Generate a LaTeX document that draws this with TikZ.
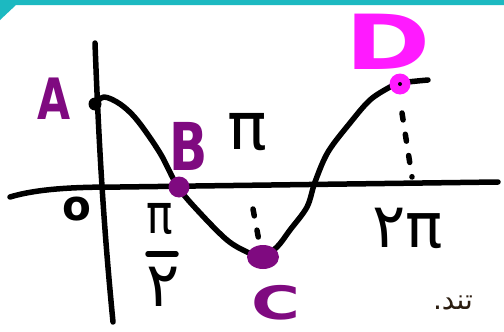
\documentclass[tikz,border=0pt]{standalone}
\usepackage{fontspec}
\usetikzlibrary{shapes.geometric}
\setmainfont{DejaVu Sans}
\newfontfamily\arabicfont[Script=Arabic]{DejaVu Sans}
\TeXXeTstate=1
\definecolor{bandteal}{HTML}{1CB9C1}
\definecolor{ptpurple}{HTML}{7F0A80}
\definecolor{ptmagenta}{HTML}{FF1AFF}
\definecolor{textbrown}{HTML}{2B1D10}
\begin{document}
\begin{tikzpicture}[x=1pt,y=-1pt,line cap=round,line join=round,
  ink/.style={line width=5.5pt,black},
  dotted ink/.style={ink,dash pattern=on 7pt off 14.5pt},
  lbl/.style={inner sep=0pt,outer sep=0pt},
  pt/.style={circle,inner sep=0pt,outer sep=0pt,draw=none}]
\useasboundingbox (0,0) rectangle (504,332);
\fill[white] (0,0) rectangle (504,332);
\fill[bandteal] (0,0) -- (504,0) -- (504,5) -- (16,5) -- (0,20) -- cycle;
% axes
\coordinate (ytop) at (95,43);
\coordinate (ybot) at (113,322);
\draw[ink] (ytop) .. controls (99,150) and (104,230) .. (ybot);
\coordinate (xl) at (10,197);
\coordinate (xo) at (120,187);
\coordinate (xr) at (498,182);
\draw[ink] (xl) .. controls (40,188) and (80,187) .. (xo) -- (xr);
% curve
\draw[ink] plot[smooth,tension=0.55] coordinates {(95,104) (104,97) (120,104) (137,120) (160,153) (178,187) (200,213) (227,240) (247,252) (262,257) (277,247) (290,230) (307,207) (315,182) (328,152) (350,123) (370,100) (390,87) (400,83) (428,80)};
% dashed guides
\coordinate (c1) at (253,209); \coordinate (c2) at (259,241);
\draw[dotted ink] (c1) -- (c2);
\coordinate (d1) at (402,113); \coordinate (d2) at (412,177);
\draw[dotted ink] (d1) -- (d2);
% points
\node[pt,fill=black,minimum size=13pt] (ptA) at (95,104) {};
\node[pt,fill=ptpurple,minimum size=21pt] (ptB) at (179,187) {};
\node[ellipse,inner sep=0pt,outer sep=0pt,fill=ptpurple,minimum width=32pt,minimum height=24pt] (ptC) at (263,257) {};
\node[pt,fill=ptmagenta,minimum size=21pt] (ptD) at (400,84) {};
\node[pt,fill=black,minimum size=4pt] (ptDc) at (400,84) {};
% labels
\node[lbl,text=ptpurple,font=\bfseries\fontsize{57}{57}\selectfont,xscale=0.75] (labA) at (54,99) {A};
\node[lbl,text=ptpurple,font=\bfseries\fontsize{66}{66}\selectfont,xscale=0.76] (labB) at (189,146) {B};
\node[lbl,text=ptpurple,font=\bfseries\fontsize{46}{46}\selectfont,xscale=1.45] (labC) at (276,303) {C};
\node[lbl,text=ptmagenta,font=\bfseries\fontsize{76}{76}\selectfont,xscale=1.35] (labD) at (388,42) {D};
\node[lbl,font=\fontsize{66}{66}\selectfont] (pi) at (247,132) {π};
\node[lbl,font=\bfseries\fontsize{42}{42}\selectfont] (zero) at (77,209) {o};
\node[lbl,font=\fontsize{55}{55}\selectfont,xscale=0.8] (fnum) at (160,219) {π};
\coordinate (fb1) at (148,254); \coordinate (fb2) at (176,254);
\draw[ink] (fb1) -- (fb2);
\node[lbl,font=\fontsize{62}{62}\selectfont] (fden) at (163,287) {۲};
\node[lbl,font=\fontsize{62}{62}\selectfont] (twopi) at (408,228) {۲π};
\node[lbl,anchor=west,text=textbrown,font=\arabicfont\fontsize{28}{28}\selectfont] (tail) at (433,303) {\beginR تند.\endR};
\end{tikzpicture}
\end{document}
